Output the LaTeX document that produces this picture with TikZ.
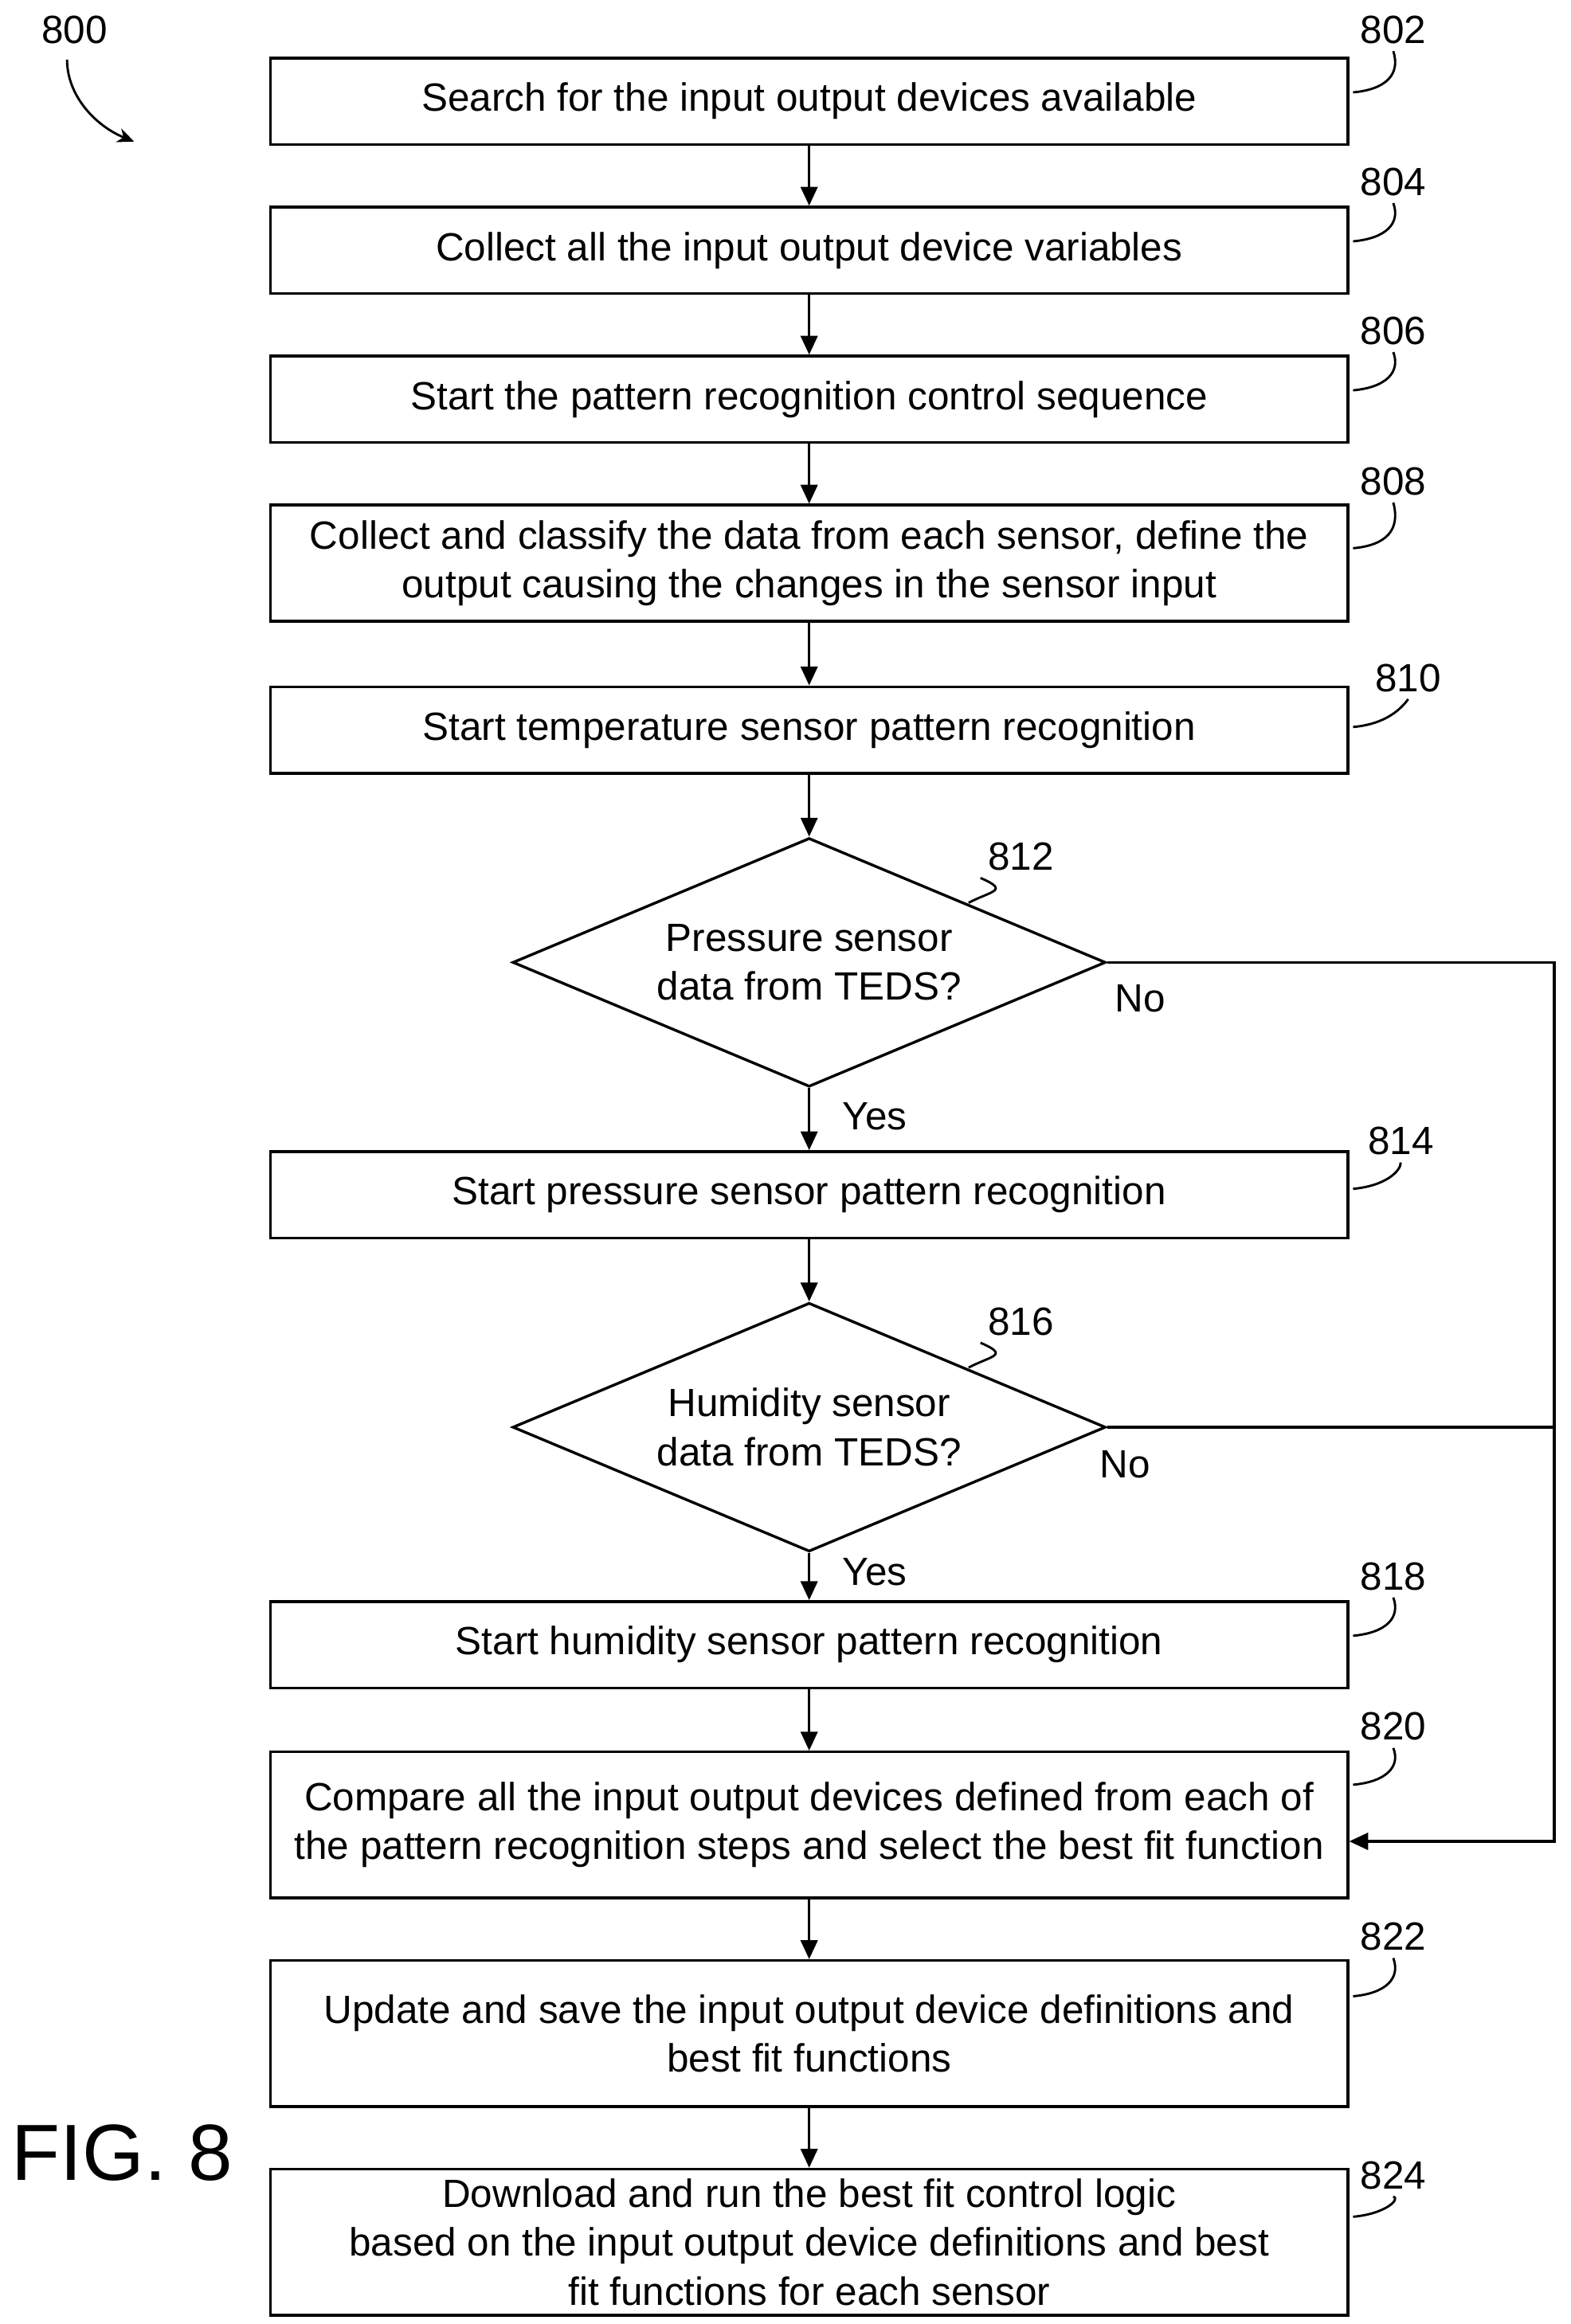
\documentclass[tikz,border=0pt]{standalone}
\usepackage{fontspec}
\setmainfont{Liberation Sans}
\usetikzlibrary{shapes.geometric,arrows.meta}
\begin{document}
\begin{tikzpicture}[x=0.025cm,y=-0.025cm,
  every node/.style={font=\fontsize{18.8}{23.4}\selectfont},
  box/.style={draw,line width=1.3pt,minimum width=723*0.025cm,align=center,inner sep=0pt},
  dia/.style={draw,line width=1.3pt,diamond,minimum width=398*0.025cm,minimum height=167*0.025cm,aspect=2.36,inner sep=0pt,align=center},
  ar/.style={line width=1.3pt,-{Triangle[length=9pt,width=8pt]}},
  ln/.style={line width=1.3pt},
  ld/.style={line width=1.1pt}]
\useasboundingbox (0,0) rectangle (1054,1560);
\node[box,minimum height=58*0.025cm] (b802) at (543,68) {Search for the input output devices available};
\node[box,minimum height=58*0.025cm] (b804) at (543,168) {Collect all the input output device variables};
\node[box,minimum height=58*0.025cm] (b806) at (543,268) {Start the pattern recognition control sequence};
\node[box,minimum height=78*0.025cm] (b808) at (543,378) {Collect and classify the data from each sensor, define the\\output causing the changes in the sensor input};
\node[box,minimum height=58*0.025cm] (b810) at (543,490) {Start temperature sensor pattern recognition};
\node[dia] (d812) at (543,646) {Pressure sensor\\data from TEDS?};
\node[box,minimum height=58*0.025cm] (b814) at (543,802) {Start pressure sensor pattern recognition};
\node[dia] (d816) at (543,958) {Humidity sensor\\data from TEDS?};
\node[box,minimum height=58*0.025cm] (b818) at (543,1104) {Start humidity sensor pattern recognition};
\node[box,minimum height=98*0.025cm] (b820) at (543,1225) {Compare all the input output devices defined from each of\\the pattern recognition steps and select the best fit function};
\node[box,minimum height=98*0.025cm] (b822) at (543,1365) {Update and save the input output device definitions and\\best fit functions};
\node[box,minimum height=98*0.025cm] (b824) at (543,1505) {Download and run the best fit control logic\\based on the input output device definitions and best\\fit functions for each sensor};
\draw[ar] (b802) -- (b804);
\draw[ar] (b804) -- (b806);
\draw[ar] (b806) -- (b808);
\draw[ar] (b808) -- (b810);
\draw[ar] (b810) -- (d812);
\draw[ar] (d812) -- node[right,xshift=12pt,pos=0.45]{Yes} (b814);
\draw[ar] (b814) -- (d816);
\draw[ar] (d816) -- node[right,xshift=12pt,pos=0.4]{Yes} (b818);
\draw[ar] (b818) -- (b820);
\draw[ar] (b820) -- (b822);
\draw[ar] (b822) -- (b824);
\coordinate (c1) at (1043,646);
\coordinate (c2) at (1043,958);
\coordinate (c3) at (1043,1236);
\draw[ln] (d812.east) -- (c1) -- (c2);
\draw[ar] (d816.east) -- (c2) -- (c3) -- (b820.east |- c3);
\node (no1) at (765,670) {No};
\node (no2) at (755,983) {No};
\node (l802) at (935,20) {802};
\node (l804) at (935,122) {804};
\node (l806) at (935,222) {806};
\node (l808) at (935,323) {808};
\node (l810) at (945,455) {810};
\node (l812) at (685,575) {812};
\node (l814) at (940,766) {814};
\node (l816) at (685,887) {816};
\node (l818) at (935,1058) {818};
\node (l820) at (935,1159) {820};
\node (l822) at (935,1300) {822};
\node (l824) at (935,1460) {824};
\foreach \n/\y in {802/62,804/162,806/262,808/368,810/488,814/798,818/1098,820/1198,822/1340,824/1488}{
  \draw[ld] (908,\y) .. controls (930,\y-2) and (940,\y-12) .. (l\n.south);
}
\draw[ld] (650,606) .. controls (665,598) and (678,598) .. (l812.south west);
\draw[ld] (650,918) .. controls (665,910) and (678,910) .. (l816.south west);
\node (l800) at (50,20) {800};
\draw[ld,-{Stealth[length=8pt,width=7pt]}] (45,40) .. controls (45,65) and (65,85) .. (90,95);
\node[font=\fontsize{38}{44}\selectfont] (fig) at (82,1445) {FIG. 8};
\end{tikzpicture}
\end{document}
